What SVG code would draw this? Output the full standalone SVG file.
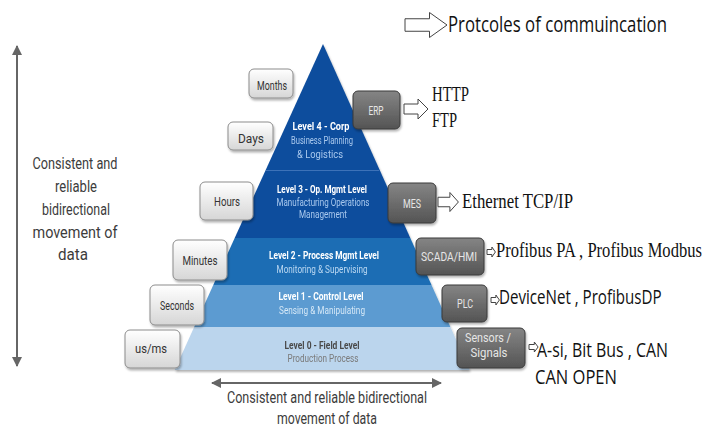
<svg xmlns="http://www.w3.org/2000/svg" width="704" height="438" viewBox="0 0 704 438">
  <style>
    .lvl-title { font-family: Roboto, "Liberation Sans", sans-serif; font-weight: bold; font-size: 11px; fill: #ffffff; text-anchor: middle; }
    .lvl-sub { font-family: Roboto, "Liberation Sans", sans-serif; font-size: 10.5px; fill: #a9c9ee; text-anchor: middle; }
    .time-box { fill: url(#lightGrad); stroke: #8c8c8c; stroke-width: 1; filter: url(#shadow); }
    .time-txt { font-family: Roboto, "Liberation Sans", sans-serif; font-size: 13px; fill: #333333; text-anchor: middle; }
    .sys-box { fill: url(#darkGrad); stroke: #3a3a3a; stroke-width: 1; filter: url(#shadow); }
    .sys-txt { font-family: Roboto, "Liberation Sans", sans-serif; font-size: 12.5px; fill: #e6e6e6; text-anchor: middle; }
    .proto-serif { font-family: "Liberation Serif", "DejaVu Serif", serif; font-size: 21px; fill: #111111; }
    .proto-sans { font-family: "Open Sans", "Liberation Sans", sans-serif; font-size: 20px; fill: #111111; }
    .note { font-family: Roboto, "Liberation Sans", sans-serif; font-size: 17px; fill: #3c3c3c; text-anchor: middle; }
    .flow { stroke: #666666; stroke-width: 2; fill: none; marker-end: url(#tip); marker-start: url(#tip); }
  </style>
  <defs>
    <linearGradient id="lightGrad" x1="0" y1="0" x2="0" y2="1">
      <stop offset="0" stop-color="#ffffff"/>
      <stop offset="1" stop-color="#d6d6d6"/>
    </linearGradient>
    <linearGradient id="darkGrad" x1="0" y1="0" x2="0" y2="1">
      <stop offset="0" stop-color="#858585"/>
      <stop offset="1" stop-color="#545454"/>
    </linearGradient>
    <filter id="shadow" x="-20%" y="-20%" width="140%" height="150%">
      <feDropShadow dx="1" dy="2" stdDeviation="1.2" flood-color="#000000" flood-opacity="0.3"/>
    </filter>
    <marker id="tip" viewBox="0 0 10 10" refX="9" refY="5" markerWidth="5" markerHeight="5" orient="auto-start-reverse">
      <path d="M0,0 L10,5 L0,10 Z" fill="#666666"/>
    </marker>
    <!-- outlined block arrow, 24 wide x 20 tall, tip at (24,0) -->
    <path id="harrow" d="M0,-5 H14 V-10 L24,0 L14,10 V5 H0 Z" fill="#ffffff" stroke="#444444" stroke-width="1" vector-effect="non-scaling-stroke"/>
  </defs>

  <rect width="704" height="438" fill="#ffffff"/>

  <!-- pyramid levels -->
  <g id="pyramid" filter="url(#shadow)">
    <g id="level-4">
      <polygon points="323,44 379.7,170 265.7,170" fill="#0e4d9d"/>
      <text class="lvl-title" x="321" y="130" textLength="57" lengthAdjust="spacingAndGlyphs">Level 4 - Corp</text>
      <text class="lvl-sub" x="322" y="144" textLength="62" lengthAdjust="spacingAndGlyphs">Business Planning</text>
      <text class="lvl-sub" x="320" y="158" textLength="46" lengthAdjust="spacingAndGlyphs">&amp; Logistics</text>
    </g>
    <g id="level-3">
      <polygon points="265.7,170 379.7,170 410.3,238 234.7,238" fill="#0e4d9d"/>
      <line x1="266" y1="170.5" x2="379" y2="170.5" stroke="#3d72b8" stroke-width="1"/>
      <text class="lvl-title" x="322" y="193" textLength="90" lengthAdjust="spacingAndGlyphs">Level 3 - Op. Mgmt Level</text>
      <text class="lvl-sub" x="323" y="206" textLength="93" lengthAdjust="spacingAndGlyphs">Manufacturing Operations</text>
      <text class="lvl-sub" x="323" y="218" textLength="48" lengthAdjust="spacingAndGlyphs">Management</text>
    </g>
    <g id="level-2">
      <polygon points="234.7,238 410.3,238 431.5,285 213.3,285" fill="#1b6db4"/>
      <text class="lvl-title" x="324" y="259" textLength="110" lengthAdjust="spacingAndGlyphs">Level 2 - Process Mgmt Level</text>
      <text class="lvl-sub" x="322" y="273" textLength="91" lengthAdjust="spacingAndGlyphs" style="fill:#bcd8f2">Monitoring &amp; Supervising</text>
    </g>
    <g id="level-1">
      <polygon points="213.3,285 431.5,285 450.4,327 194.2,327" fill="#5b9bd1"/>
      <text class="lvl-title" x="321" y="300" textLength="85" lengthAdjust="spacingAndGlyphs">Level 1 - Control Level</text>
      <text class="lvl-sub" x="322" y="314" textLength="86" lengthAdjust="spacingAndGlyphs" style="fill:#d6e8f7">Sensing &amp; Manipulating</text>
    </g>
    <g id="level-0">
      <polygon points="194.2,327 450.4,327 469.7,370 174.7,370" fill="#bbd5ed"/>
      <text class="lvl-title" x="322" y="349" textLength="75" lengthAdjust="spacingAndGlyphs" style="fill:#4a4a4a">Level 0 - Field Level</text>
      <text class="lvl-sub" x="323" y="362" textLength="71" lengthAdjust="spacingAndGlyphs" style="fill:#7a7a7a">Production Process</text>
    </g>
  </g>

  <!-- time scale boxes -->
  <g id="time-months">
    <rect class="time-box" x="249" y="69" width="44" height="29" rx="5"/>
    <text class="time-txt" x="272" y="90" textLength="30" lengthAdjust="spacingAndGlyphs">Months</text>
  </g>
  <g id="time-days">
    <rect class="time-box" x="228" y="122" width="45" height="28" rx="5"/>
    <text class="time-txt" x="251" y="143" textLength="26" lengthAdjust="spacingAndGlyphs">Days</text>
  </g>
  <g id="time-hours">
    <rect class="time-box" x="200" y="182" width="53" height="38" rx="5"/>
    <text class="time-txt" x="227" y="206" textLength="26" lengthAdjust="spacingAndGlyphs">Hours</text>
  </g>
  <g id="time-minutes">
    <rect class="time-box" x="173" y="240" width="54" height="40" rx="5"/>
    <text class="time-txt" x="200" y="265" textLength="35" lengthAdjust="spacingAndGlyphs">Minutes</text>
  </g>
  <g id="time-seconds">
    <rect class="time-box" x="150" y="285" width="54" height="40" rx="5"/>
    <text class="time-txt" x="177" y="310" textLength="34" lengthAdjust="spacingAndGlyphs">Seconds</text>
  </g>
  <g id="time-usms">
    <rect class="time-box" x="125" y="330" width="55" height="38" rx="5"/>
    <text class="time-txt" x="151" y="353" textLength="32" lengthAdjust="spacingAndGlyphs">us/ms</text>
  </g>

  <!-- system boxes -->
  <g id="sys-erp">
    <rect class="sys-box" x="353" y="91" width="47" height="38" rx="5"/>
    <text class="sys-txt" x="376" y="115" textLength="15" lengthAdjust="spacingAndGlyphs">ERP</text>
  </g>
  <g id="sys-mes">
    <rect class="sys-box" x="388" y="183" width="48" height="40" rx="5"/>
    <text class="sys-txt" x="412" y="208" textLength="18" lengthAdjust="spacingAndGlyphs">MES</text>
  </g>
  <g id="sys-scada">
    <rect class="sys-box" x="416" y="238" width="68" height="37" rx="5"/>
    <text class="sys-txt" x="449" y="261" textLength="56" lengthAdjust="spacingAndGlyphs">SCADA/HMI</text>
  </g>
  <g id="sys-plc">
    <rect class="sys-box" x="442" y="285" width="45" height="37" rx="5"/>
    <text class="sys-txt" x="465" y="308" textLength="16" lengthAdjust="spacingAndGlyphs">PLC</text>
  </g>
  <g id="sys-sensors">
    <rect class="sys-box" x="457" y="328" width="68" height="40" rx="5"/>
    <text class="sys-txt" x="488" y="342" textLength="46" lengthAdjust="spacingAndGlyphs">Sensors /</text>
    <text class="sys-txt" x="489" y="357" textLength="37" lengthAdjust="spacingAndGlyphs">Signals</text>
  </g>

  <!-- protocol labels (wide lines are narrowed with a horizontal scale) -->
  <g id="legend">
    <text class="proto-sans" transform="translate(448,32) scale(0.755,1)" style="font-size:22px" textLength="290" lengthAdjust="spacingAndGlyphs">Protcoles of commuincation</text>
  </g>
  <g id="proto-erp">
    <text class="proto-serif" x="432" y="101" textLength="37" lengthAdjust="spacingAndGlyphs">HTTP</text>
    <text class="proto-serif" x="432" y="127" textLength="25" lengthAdjust="spacingAndGlyphs">FTP</text>
  </g>
  <g id="proto-mes">
    <text class="proto-serif" x="462" y="208" textLength="111" lengthAdjust="spacingAndGlyphs" style="font-size:22px">Ethernet TCP/IP</text>
  </g>
  <g id="proto-scada">
    <text class="proto-serif" transform="translate(496,257) scale(0.78,1)" textLength="264" lengthAdjust="spacingAndGlyphs">Profibus PA , Profibus Modbus</text>
  </g>
  <g id="proto-plc">
    <text class="proto-sans" transform="translate(499,304) scale(0.76,1)" textLength="214" lengthAdjust="spacingAndGlyphs">DeviceNet , ProfibusDP</text>
  </g>
  <g id="proto-sensors">
    <text class="proto-sans" x="537" y="357" textLength="131" lengthAdjust="spacingAndGlyphs">A-si, Bit Bus , CAN</text>
    <text class="proto-sans" x="535" y="384" textLength="82" lengthAdjust="spacingAndGlyphs">CAN OPEN</text>
  </g>

  <!-- side notes -->
  <g id="note-vertical">
    <text class="note" x="75" y="169" textLength="85" lengthAdjust="spacingAndGlyphs">Consistent and</text>
    <text class="note" x="76" y="192" textLength="42" lengthAdjust="spacingAndGlyphs">reliable</text>
    <text class="note" x="76" y="215" textLength="68" lengthAdjust="spacingAndGlyphs">bidirectional</text>
    <text class="note" x="75" y="238" textLength="85" lengthAdjust="spacingAndGlyphs">movement of</text>
    <text class="note" x="73" y="260" textLength="30" lengthAdjust="spacingAndGlyphs">data</text>
  </g>
  <g id="note-horizontal">
    <text class="note" x="327" y="403" textLength="200" lengthAdjust="spacingAndGlyphs">Consistent and reliable bidirectional</text>
    <text class="note" x="327" y="424" textLength="100" lengthAdjust="spacingAndGlyphs">movement of data</text>
  </g>

  <!-- connectors -->
  <g id="connectors">
    <line class="flow" x1="17" y1="46" x2="17" y2="366"/>
    <line class="flow" x1="212" y1="383" x2="441" y2="383"/>
    <use href="#harrow" transform="translate(405,25) scale(1.75,1.25)"/>
    <use href="#harrow" transform="translate(404,109)"/>
    <use href="#harrow" transform="translate(438,202) scale(0.85,0.95)"/>
    <use href="#harrow" transform="translate(487,252) scale(0.35,0.5)"/>
    <use href="#harrow" transform="translate(491,300) scale(0.35,0.5)"/>
    <use href="#harrow" transform="translate(529,347) scale(0.38,0.5)"/>
  </g>
</svg>
